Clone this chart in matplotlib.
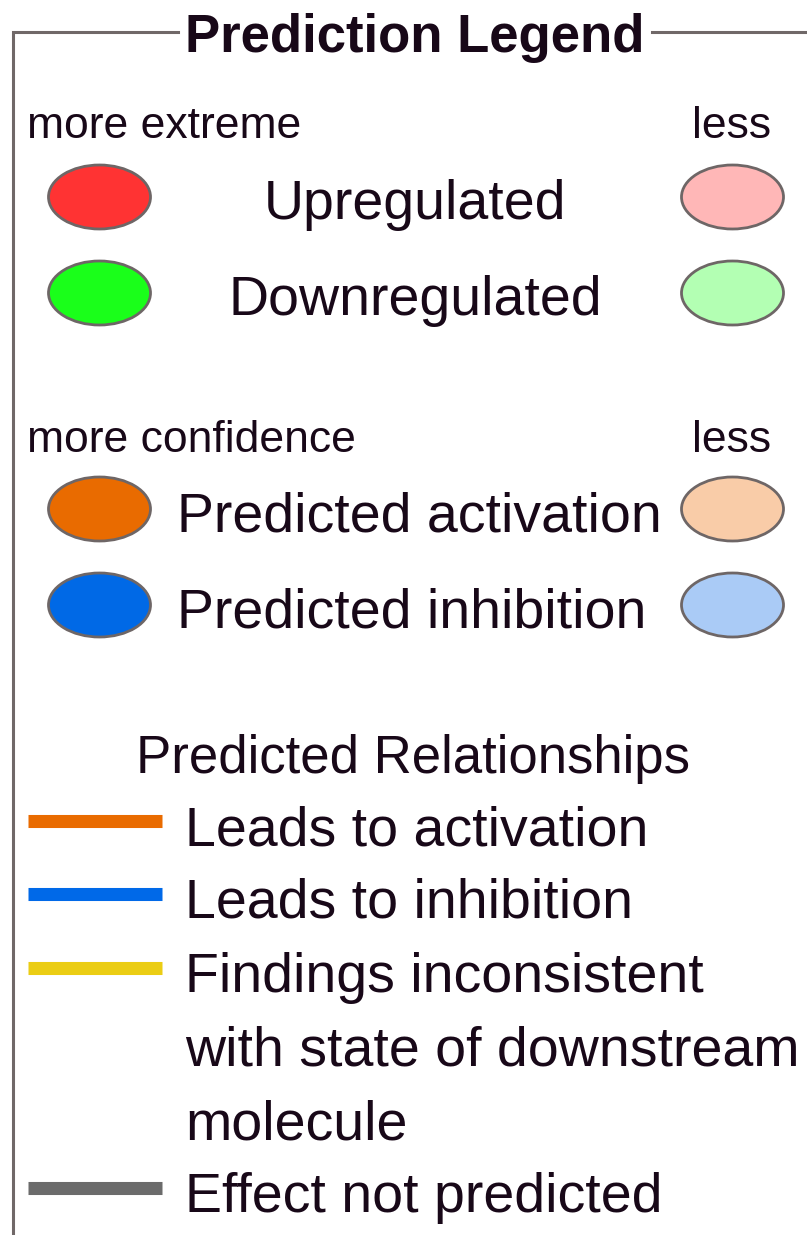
import matplotlib
matplotlib.use('Agg')
import matplotlib.pyplot as plt
from matplotlib.patches import Ellipse

# legend content
title = 'Prediction Legend'
state_labels = ['Upregulated', 'Downregulated']
state_strong = ['#ff3333', '#1aff1a']
state_weak = ['#ffb7b7', '#b3ffb3']
pred_labels = ['Predicted activation', 'Predicted inhibition']
pred_strong = ['#e96b00', '#0069e6']
pred_weak = ['#f9cca8', '#aacbf6']
rel_title = 'Predicted Relationships'
rel_labels = [['Leads to activation'], ['Leads to inhibition'],
              ['Findings inconsistent', 'with state of downstream', 'molecule'],
              ['Effect not predicted']]
rel_colors = ['#e96b00', '#0069e8', '#ebcd14', '#6b6b6b']

txt = '#180818'
edge = '#6e6666'
plt.rcParams['font.family'] = ['Liberation Sans', 'DejaVu Sans']

fig = plt.figure(figsize=(8.07, 12.35), dpi=100)
ax = fig.add_axes([0, 0, 1, 1])
ax.set_xlim(0, 807)
ax.set_ylim(1235, 0)
ax.axis('off')

# frame around the legend
ax.plot([178, 13, 13], [32, 32, 1240], color='#706868', lw=2.2, solid_joinstyle='miter')
ax.plot([652, 810], [32, 32], color='#706868', lw=2.2)
ax.text(415, 52, title, ha='center', va='baseline', fontsize=38, fontweight='bold', color=txt)

def ellipse_rows(labels, strong, weak, ys, text_x, ha):
    for lab, c1, c2, y in zip(labels, strong, weak, ys):
        ax.add_patch(Ellipse((99.5, y), 102, 64, facecolor=c1, edgecolor=edge, lw=2))
        ax.add_patch(Ellipse((732.5, y), 102, 64, facecolor=c2, edgecolor=edge, lw=2))
        ax.text(text_x, y + 22, lab, ha=ha, va='baseline', fontsize=40, color=txt)

ax.text(27, 138, 'more extreme', ha='left', va='baseline', fontsize=32, color=txt)
ax.text(732, 138, 'less', ha='center', va='baseline', fontsize=32, color=txt)
ellipse_rows(state_labels, state_strong, state_weak, [197, 293], 415, 'center')

ax.text(27, 452, 'more confidence', ha='left', va='baseline', fontsize=32, color=txt)
ax.text(732, 452, 'less', ha='center', va='baseline', fontsize=32, color=txt)
ellipse_rows(pred_labels, pred_strong, pred_weak, [509, 605], 177, 'left')

ax.text(413, 773, rel_title, ha='center', va='baseline', fontsize=38, color=txt)
line_y = [821, 894, 968, 1188]
for lines, c, y in zip(rel_labels, rel_colors, line_y):
    ax.plot([28, 162], [y, y], color=c, lw=9.4, solid_capstyle='butt')
    for i, lab in enumerate(lines):
        ax.text(185, y + 24 + i * 73.5, lab, ha='left', va='baseline', fontsize=40, color=txt)

fig.savefig('out.png', dpi=100)
